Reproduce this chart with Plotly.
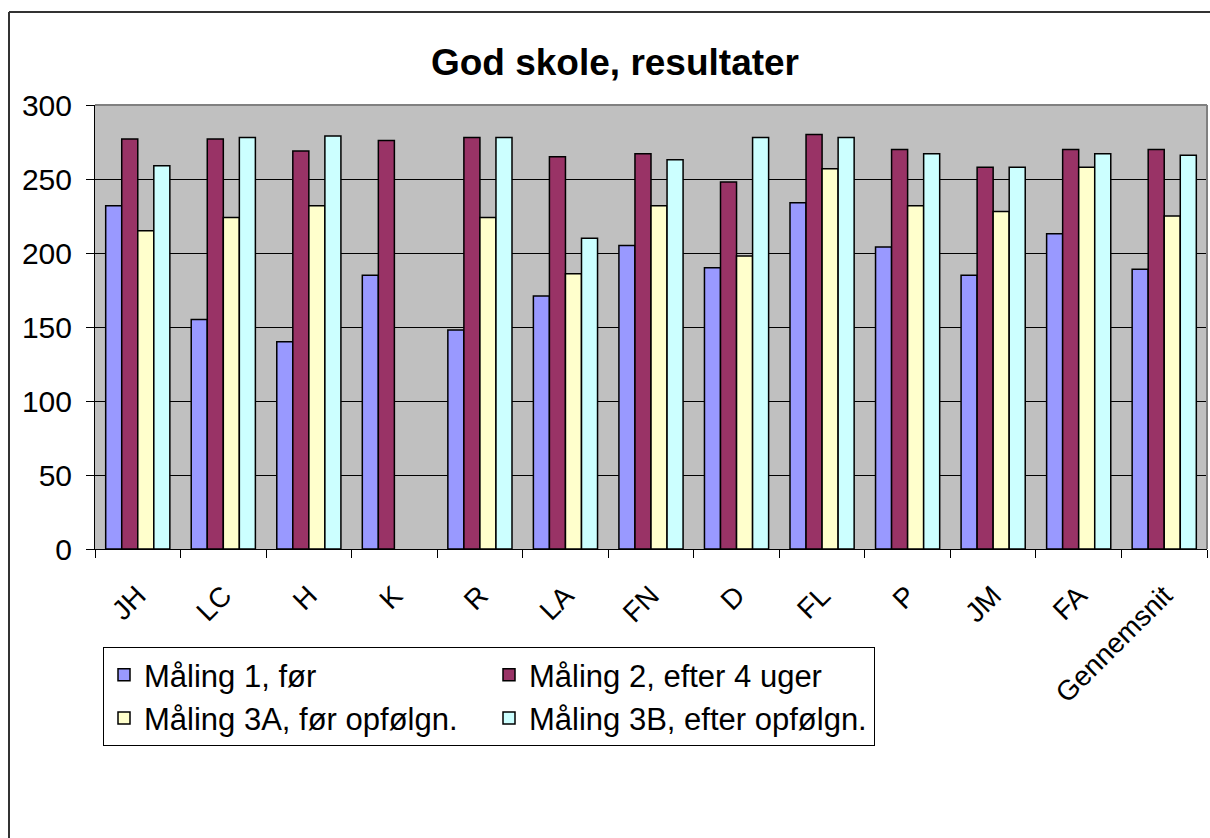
import plotly.graph_objects as go

# Data
elever = ["JH", "LC", "H", "K", "R", "LA", "FN", "D", "FL", "P", "JM", "FA", "Gennemsnit"]
maaling_1 = [232, 155, 140, 185, 148, 171, 205, 190, 234, 204, 185, 213, 189]
maaling_2 = [277, 277, 269, 276, 278, 265, 267, 248, 280, 270, 258, 270, 270]
maaling_3a = [215, 224, 232, None, 224, 186, 232, 198, 257, 232, 228, 258, 225]
maaling_3b = [259, 278, 279, None, 278, 210, 263, 278, 278, 267, 258, 267, 266]

serier = [
    ("Måling 1, før", maaling_1, "#9999FF"),
    ("Måling 2, efter 4 uger", maaling_2, "#993366"),
    ("Måling 3A, før opfølgn.", maaling_3a, "#FFFFCC"),
    ("Måling 3B, efter opfølgn.", maaling_3b, "#CCFFFF"),
]

FONT = "Arial, Liberation Sans, sans-serif"

fig = go.Figure()
for navn, vaerdier, farve in serier:
    fig.add_trace(go.Bar(
        x=elever,
        y=vaerdier,
        name=navn,
        marker=dict(color=farve, line=dict(color="black", width=1.5)),
    ))

# page pixels (body margin is removed in the page, see write_html below)
W, H = 1210, 838
L, R, T, B = 95, 1207, 105, 549
pw, ph = R - L, B - T


def px(x):
    return (x - L) / pw


def py(y):
    return (B - y) / ph


fig.update_layout(
    width=W,
    height=H,
    margin=dict(l=L, r=W - R, t=T, b=H - B, pad=0),
    paper_bgcolor="white",
    plot_bgcolor="#C0C0C0",
    barmode="group",
    bargap=0.25,
    bargroupgap=0,
    font=dict(family=FONT, color="black"),
    title=dict(
        text="<b>God skole, resultater</b>",
        x=615 / W, xanchor="center",
        y=1 - 62 / H, yanchor="middle",
        font=dict(size=37, family=FONT, color="black"),
    ),
    xaxis=dict(
        type="category",
        tickangle=-45,
        tickfont=dict(size=28, family=FONT),
        ticks="outside",
        tickson="boundaries",
        ticklen=8,
        tickcolor="black",
        ticklabelstandoff=18,
        showline=True,
        linecolor="black",
        linewidth=1,
        showgrid=False,
    ),
    yaxis=dict(
        range=[0, 300],
        dtick=50,
        tickfont=dict(size=30, family=FONT),
        ticks="outside",
        ticklen=8,
        tickcolor="black",
        ticklabelstandoff=8,
        showline=True,
        linecolor="black",
        linewidth=1,
        showgrid=True,
        gridcolor="black",
        gridwidth=1,
        zeroline=False,
    ),
    legend=dict(
        orientation="h",
        x=px(103), xanchor="left",
        y=py(647), yanchor="top",
        entrywidth=340,
        bgcolor="white",
        bordercolor="black",
        borderwidth=1,
        font=dict(size=31, family=FONT),
        traceorder="normal",
    ),
    shapes=[
        # grey border of plot area (top and right)
        dict(type="line", xref="paper", yref="paper", x0=0, x1=1, y0=1, y1=1,
             line=dict(color="#808080", width=2), layer="above"),
        dict(type="line", xref="paper", yref="paper", x0=1, x1=1, y0=0, y1=1,
             line=dict(color="#808080", width=2), layer="above"),
        # outer chart frame (only top and left edges are visible)
        dict(type="line", xref="paper", yref="paper",
             x0=px(9), x1=px(1215), y0=py(12), y1=py(12),
             line=dict(color="#333333", width=2), layer="above"),
        dict(type="line", xref="paper", yref="paper",
             x0=px(9), x1=px(9), y0=py(12), y1=py(845),
             line=dict(color="#333333", width=2), layer="above"),
    ],
)

fig.write_html(
    "out.html",
    config={"displayModeBar": False},
    post_script="document.body.style.margin='0';document.body.style.overflow='hidden';",
)
